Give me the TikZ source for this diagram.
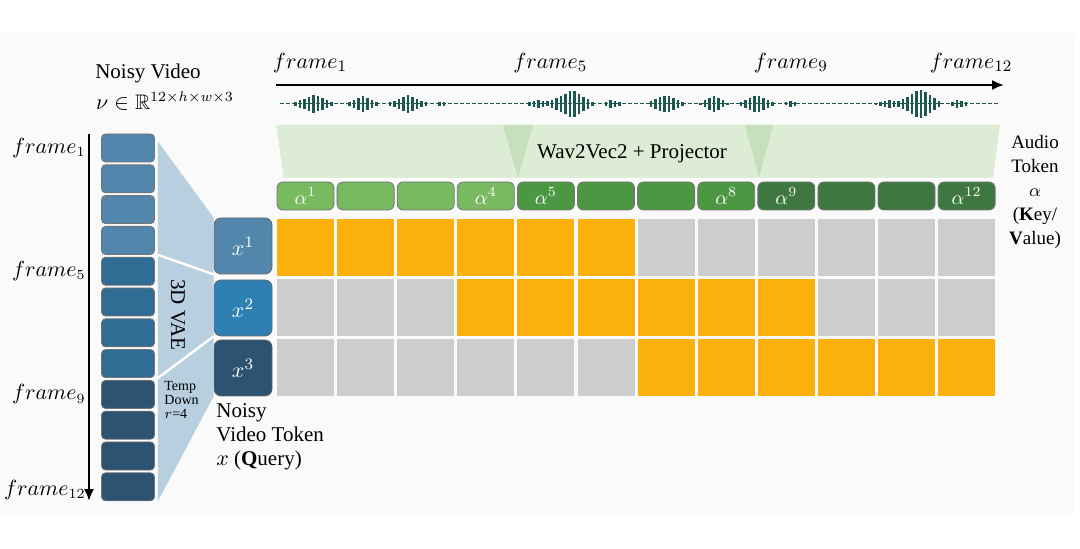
\documentclass[tikz,border=0pt]{standalone}
\usepackage{amssymb}
\usepackage{fontspec}
\setmainfont{Liberation Serif}
\usetikzlibrary{arrows.meta}

\definecolor{vidA}{RGB}{82,134,172}
\definecolor{vidB}{RGB}{48,108,148}
\definecolor{vidC}{RGB}{45,83,114}
\definecolor{tokB}{RGB}{46,128,178}
\definecolor{funnel}{RGB}{184,207,224}
\definecolor{audA}{RGB}{120,186,96}
\definecolor{audB}{RGB}{76,152,66}
\definecolor{audC}{RGB}{62,120,64}
\definecolor{proj}{RGB}{221,236,213}
\definecolor{projD}{RGB}{198,223,188}
\definecolor{hit}{RGB}{251,176,12}
\definecolor{miss}{RGB}{205,205,205}
\definecolor{wave}{RGB}{28,88,80}
\definecolor{paper}{RGB}{250,250,250}

\begin{document}
\begin{tikzpicture}[x=0.5pt,y=-0.5pt]
    \tikzstyle{vid}=[draw=black!55, line width=0.4pt, rounded corners=2pt,
                     minimum width=26.5pt, minimum height=14pt, inner sep=0pt]
    \tikzstyle{tok}=[draw=black!60, line width=0.4pt, rounded corners=3.5pt,
                     minimum width=29pt, minimum height=28pt, inner sep=0pt,
                     text=white, font=\fontsize{11}{13}\selectfont]
    \tikzstyle{aud}=[draw=black!55, line width=0.4pt, rounded corners=3pt,
                     minimum width=28.5pt, minimum height=14pt, inner sep=0pt,
                     text=white, font=\fontsize{10}{12}\selectfont]
    \tikzstyle{cell}=[minimum size=28.5pt, inner sep=0pt]
    \tikzstyle{lbl}=[font=\fontsize{10.5}{12}\selectfont, inner sep=0pt]
    \tikzstyle{frm}=[font=\fontsize{11}{13}\selectfont, inner sep=0pt]

    \useasboundingbox (0,0) rectangle (1080,549);
    \fill[paper] (0,33) rectangle (1075,515);

    % noisy video frames
    \node[lbl] (title) at (148,73) {Noisy Video};
    \node[lbl] (space) at (165,101) {$\nu\in\mathbb{R}^{12\times h\times w\times 3}$};
    \foreach \i/\c in {1/vidA,2/vidA,3/vidA,4/vidA,5/vidB,6/vidB,7/vidB,8/vidB,
                       9/vidC,10/vidC,11/vidC,12/vidC}
        \node[vid, fill=\c] (f\i) at (128,{148+(\i-1)*30.8}) {};
    \coordinate (vt) at (89,134);
    \coordinate (vb) at (89,501);
    \draw[line width=1pt, -{Latex[length=6pt,width=5pt]}] (vt) -- (vb);
    \foreach \i in {1,5,9}
        \node[frm, anchor=east, font=\fontsize{10.5}{12}\selectfont]
            (l\i) at (86,{148+(\i-1)*30.8}) {$frame_{\i}$};
    \node[frm, anchor=east, font=\fontsize{10.5}{12}\selectfont] (l12) at (86,490) {$frame_{12}$};

    % noisy video tokens
    \node[tok, fill=vidA] (x1) at (243,246) {$x^{1}$};
    \node[tok, fill=tokB] (x2) at (243,308) {$x^{2}$};
    \node[tok, fill=vidC] (x3) at (243,368) {$x^{3}$};

    % 3D VAE funnel
    \fill[funnel] ([xshift=1.5pt,yshift=-4pt]f1.north east) -- (x1.north west)
        -- (x3.south west) -- ([xshift=1.5pt]f12.south east) -- cycle;
    \draw[white, line width=1.2pt] ([xshift=1.5pt]f4.south east) -- (x1.south west);
    \draw[white, line width=1.2pt] ([xshift=1.5pt]f8.south east) -- (x2.south west);
    \node[lbl, rotate=-90] (vae) at (178,315) {3D VAE};
    \node[anchor=west, align=left, inner sep=0pt,
          font=\fontsize{7}{7.2}\selectfont] (down) at (164,400) {Temp\\Down\\$r$=4};
    \node[lbl, anchor=north west, align=left, font=\fontsize{10.5}{12}\selectfont]
        (query) at (216,403) {Noisy\\Video Token\\$x$ (\textbf{Q}uery)};

    % attention mask
    \foreach \r in {1,2,3}
        \foreach \j in {1,...,12} {
            \pgfmathtruncatemacro\lo{3*\r-2}
            \pgfmathtruncatemacro\hi{3*\r+3}
            \ifnum\j<\lo \def\c{miss}\else\ifnum\j>\hi \def\c{miss}\else\def\c{hit}\fi\fi
            \node[cell, fill=\c] (c\r-\j) at ({305.5+(\j-1)*60.1},{187.5+\r*60}) {};
        }

    % audio tokens
    \foreach \j/\c/\t in {1/audA/$\alpha^{1}$,2/audA/,3/audA/,4/audA/$\alpha^{4}$,
                          5/audB/$\alpha^{5}$,6/audB/,7/audB/,8/audB/$\alpha^{8}$,
                          9/audC/$\alpha^{9}$,10/audC/,11/audC/,12/audC/$\alpha^{12}$}
        \node[aud, fill=\c] (a\j) at ({305.5+(\j-1)*60.1},196) {\t};

    % Wav2Vec2 + projector
    \fill[proj] (276,125) -- (1000,125) -- (993,178) -- (284,178) -- cycle;
    \fill[projD] (503,125) -- (533,125) -- (518,178) -- cycle;
    \fill[projD] (745,125) -- (773,125) -- (759,178) -- cycle;
    \node[lbl] (w2v) at (632,154) {Wav2Vec2 + Projector};
    \node[align=center, inner sep=0pt, font=\fontsize{9.5}{12}\selectfont]
        (key) at (1035,192) {Audio\\Token\\$\alpha$\\(\textbf{K}ey/\\\textbf{V}alue)};

    % audio waveform and time axis
    \coordinate (tl) at (276,85);
    \coordinate (tr) at (1004,85);
    \draw[line width=1pt, -{Latex[length=6pt,width=5pt]}] (tl) -- (tr);
    \foreach \j in {1,5,9,12}
        \node[frm] (t\j) at ({310+(\j-1)*60.1},63) {$frame_{\j}$};
    \draw[wave, line width=0.5pt, dash pattern=on 2pt off 1pt] (280,104) -- (1000,104);
    \foreach \x in {282,286.5,...,998} {
        \pgfmathsetmacro\h{9*max(0,1-abs(\x-314)/24) + 8*max(0,1-abs(\x-363)/18)
            + 9*max(0,1-abs(\x-408)/22) + 3*max(0,1-abs(\x-442)/10)
            + 4*max(0,1-abs(\x-540)/20) + 14*max(0,1-abs(\x-572)/24)
            + 4*max(0,1-abs(\x-612)/14) + 9*max(0,1-abs(\x-666)/22)
            + 8*max(0,1-abs(\x-714)/16) + 9*max(0,1-abs(\x-756)/20)
            + 3*max(0,1-abs(\x-792)/12) + 4*max(0,1-abs(\x-888)/18)
            + 15*max(0,1-abs(\x-920)/24) + 4*max(0,1-abs(\x-958)/14)}
        \ifdim\h pt>1.2pt
            \draw[wave, line width=1.3pt] (\x,{104-\h}) -- (\x,{104+\h});
        \fi
    }
\end{tikzpicture}
\end{document}
